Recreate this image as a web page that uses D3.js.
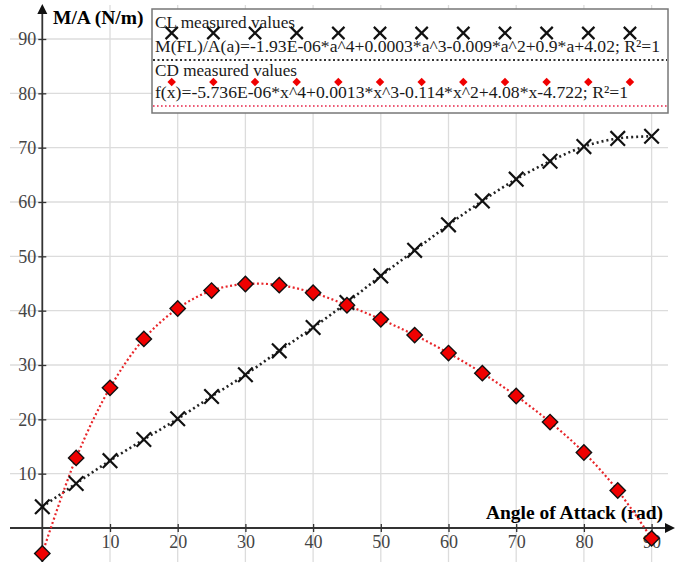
<!DOCTYPE html>
<html lang="en">
<head>
<meta charset="utf-8">
<title>M/A vs Angle of Attack</title>
<script src="https://d3js.org/d3.v7.min.js"></script>
<style>
  body { margin: 0; background: white; }
  svg { display: block; }
  .tick text { font-family: "Liberation Serif", "DejaVu Serif", serif; fill: #444; }
</style>
</head>
<body>
<script>
// data
let angles = [0, 5, 10, 15, 20, 25, 30, 35, 40, 45, 50, 55, 60, 65, 70, 75, 80, 85, 90]
let clValues = [3.9, 8.2, 12.4, 16.3, 20.1, 24.2, 28.2, 32.6, 36.9, 41.5, 46.4, 51.1, 55.8, 60.2, 64.2, 67.5, 70.2, 71.7, 72.1]
let cdValues = [-4.7, 12.9, 25.8, 34.8, 40.4, 43.7, 44.9, 44.7, 43.3, 41.0, 38.4, 35.5, 32.2, 28.5, 24.3, 19.5, 13.9, 6.9, -1.9]
let xTicks = [10, 20, 30, 40, 50, 60, 70, 80, 90]
let yTicks = [10, 20, 30, 40, 50, 60, 70, 80, 90]
let clLabel = "CL measured values"
let clFit = "M(FL)/A(a)=-1.93E-06*a^4+0.0003*a^3-0.009*a^2+0.9*a+4.02; R\u00B2=1"
let cdLabel = "CD measured values"
let cdFit = "f(x)=-5.736E-06*x^4+0.0013*x^3-0.114*x^2+4.08*x-4.722; R\u00B2=1"

let width = 676
let height = 562
let serif = '"Liberation Serif", "DejaVu Serif", serif'

let svg = d3.select("body").append("svg")
    .attr("width", width)
    .attr("height", height)

let x = d3.scaleLinear().domain([0, 90]).range([42.3, 651.6])
let y = d3.scaleLinear().domain([0, 90]).range([528, 39])

// grid
let grid = svg.append("g").attr("stroke", "#dcdcdc").attr("stroke-width", 1.3)
grid.selectAll(".vg").data(xTicks).enter().append("line")
    .attr("x1", d => x(d)).attr("x2", d => x(d))
    .attr("y1", 5).attr("y2", height)
grid.selectAll(".hg").data(yTicks).enter().append("line")
    .attr("x1", 10).attr("x2", 668)
    .attr("y1", d => y(d)).attr("y2", d => y(d))

// axes
let xAxis = d3.axisBottom(x).tickValues(xTicks).tickSize(4).tickPadding(9)
let yAxis = d3.axisLeft(y).tickValues(yTicks).tickSize(4).tickPadding(5)

let gx = svg.append("g").attr("transform", `translate(0,${y(0)})`).call(xAxis)
let gy = svg.append("g").attr("transform", `translate(${x(0)},0)`).call(yAxis)
;[gx, gy].forEach(g => {
    g.select(".domain").remove()
    g.selectAll(".tick text").attr("font-size", 18).attr("font-family", serif)
})
gx.selectAll(".tick line").attr("y1", -4).attr("stroke", "#333").attr("stroke-width", 1.3)
gx.selectAll(".tick text").attr("dy", "0.71em").attr("y", 7)
gy.selectAll(".tick line").attr("x2", 4).attr("x1", -4).attr("stroke", "#333").attr("stroke-width", 1.3)
gy.selectAll(".tick text").attr("x", -6)

// axis lines with arrows
svg.append("line").attr("x1", 10).attr("x2", 668).attr("y1", y(0)).attr("y2", y(0))
    .attr("stroke", "#333").attr("stroke-width", 1.8)
svg.append("line").attr("x1", x(0)).attr("x2", x(0)).attr("y1", height).attr("y2", 10)
    .attr("stroke", "#333").attr("stroke-width", 1.8)
svg.append("path").attr("d", `M${x(0)},4 L${x(0) - 5},14 L${x(0) + 5},14 Z`).attr("fill", "#111")
svg.append("path").attr("d", `M675,${y(0)} L665,${y(0) - 5} L665,${y(0) + 5} Z`).attr("fill", "#111")

svg.append("text").text("M/A (N/m)")
    .attr("x", 53).attr("y", 24)
    .attr("font-family", serif).attr("font-weight", "bold").attr("font-size", 19.5)
svg.append("text").text("Angle of Attack (rad)")
    .attr("x", 663).attr("y", 519).attr("text-anchor", "end")
    .attr("font-family", serif).attr("font-weight", "bold").attr("font-size", 19.5)

// curves
let clData = angles.map((a, i) => ({a: a, v: clValues[i]}))
let cdData = angles.map((a, i) => ({a: a, v: cdValues[i]}))
let line = d3.line().x(d => x(d.a)).y(d => y(d.v)).curve(d3.curveCatmullRom.alpha(0.5))

svg.append("path").datum(clData).attr("d", line)
    .attr("fill", "none").attr("stroke", "#222").attr("stroke-width", 2.6)
    .attr("stroke-dasharray", "2,3")
svg.append("path").datum(cdData).attr("d", line)
    .attr("fill", "none").attr("stroke", "#e8262a").attr("stroke-width", 2.2)
    .attr("stroke-dasharray", "2,2.5")

let xSym = d3.symbol().type(d3.symbolX).size(140)
svg.selectAll(".cl").data(clData).enter().append("path")
    .attr("class", "cl")
    .attr("d", xSym)
    .attr("transform", d => `translate(${x(d.a)},${y(d.v)})`)
    .attr("fill", "none").attr("stroke", "#111").attr("stroke-width", 2.2)

let diamond = d3.symbol().type(d3.symbolSquare).size(118)
svg.selectAll(".cd").data(cdData).enter().append("path")
    .attr("class", "cd")
    .attr("d", diamond)
    .attr("transform", d => `translate(${x(d.a)},${y(d.v)}) rotate(45)`)
    .attr("fill", "#f00000").attr("stroke", "#111").attr("stroke-width", 1.4)

// legend
let lg = svg.append("g")
lg.append("rect").attr("x", 152).attr("y", 9).attr("width", 516).attr("height", 104)
    .attr("fill", "white").attr("stroke", "#777").attr("stroke-width", 1.5)

let legText = (t, yy, len) => lg.append("text").text(t)
    .attr("x", 155).attr("y", yy)
    .attr("font-family", serif).attr("font-size", 17).attr("fill", "#1a1a1a")
    .attr("textLength", len).attr("lengthAdjust", "spacingAndGlyphs")

legText(clLabel, 28, 140)
legText(clFit, 52, 505)
legText(cdLabel, 76, 142)
legText(cdFit, 98, 473)

let legendXs = d3.range(12).map(i => 171.7 + i * 41.66)
lg.selectAll(".lx").data(legendXs).enter().append("path")
    .attr("d", d3.symbol().type(d3.symbolX).size(100))
    .attr("transform", d => `translate(${d},33)`)
    .attr("fill", "none").attr("stroke", "#111").attr("stroke-width", 2.2)
lg.selectAll(".ld").data(legendXs).enter().append("path")
    .attr("d", d3.symbol().type(d3.symbolSquare).size(36))
    .attr("transform", d => `translate(${d},82) rotate(45)`)
    .attr("fill", "#f00000")

lg.append("line").attr("x1", 153).attr("x2", 667).attr("y1", 60).attr("y2", 60)
    .attr("stroke", "#333").attr("stroke-width", 2).attr("stroke-dasharray", "2,2.5")
lg.append("line").attr("x1", 153).attr("x2", 667).attr("y1", 106).attr("y2", 106)
    .attr("stroke", "#e8264a").attr("stroke-width", 1.6).attr("stroke-dasharray", "1.6,2.4")
</script>
</body>
</html>
